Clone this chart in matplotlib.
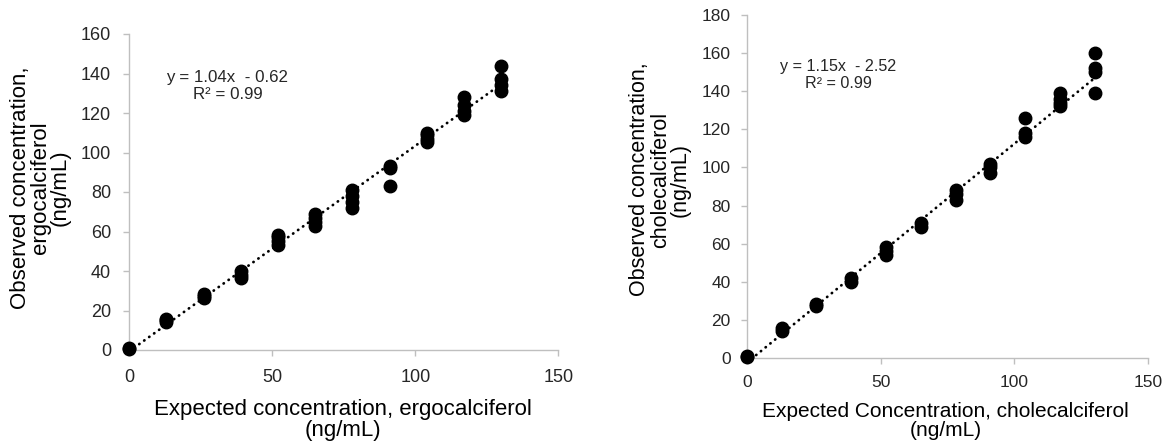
import matplotlib
matplotlib.use("Agg")
import matplotlib.pyplot as plt

plt.rcParams['font.family'] = ['Liberation Sans', 'DejaVu Sans']

# ---- data ----
expected_ergo = [0, 0, 13, 13, 13, 26, 26, 26, 39, 39, 39, 52, 52, 52, 52,
                 65, 65, 65, 65, 78, 78, 78, 78, 91, 91, 91,
                 104, 104, 104, 104, 117, 117, 117, 117, 130, 130, 130, 130]
observed_ergo = [1, 0.5, 14, 15, 15.5, 26.5, 27.5, 28.5, 36.5, 38, 40, 53, 55, 57, 58,
                 63, 65, 67, 69, 72, 75, 78, 81, 83, 92, 93,
                 105.5, 107, 109, 110, 119, 121, 124, 128, 131, 134, 137, 144]

expected_chole = [0, 0, 13, 13, 26, 26, 39, 39, 52, 52, 52, 65, 65,
                  78, 78, 78, 91, 91, 91, 104, 104, 104,
                  117, 117, 117, 117, 130, 130, 130, 130]
observed_chole = [1, 0.5, 14, 15.5, 27.5, 28.5, 40, 42, 54, 56, 58, 69, 71,
                  83, 86, 88, 97, 100, 102, 116, 118, 126,
                  132, 134, 136, 139, 139, 150, 152, 160]

fit_ergo = (1.04, -0.62)
fit_chole = (1.15, -2.52)
fit_range = [0, 130]

eq_ergo = "y = 1.04x  - 0.62\nR\u00b2 = 0.99"
eq_chole = "y = 1.15x  - 2.52\nR\u00b2 = 0.99"

xticks = [0, 50, 100, 150]
yticks_ergo = list(range(0, 161, 20))
yticks_chole = list(range(0, 181, 20))

W, H = 1164, 447
fig = plt.figure(figsize=(W / 100, H / 100), dpi=100)


def px_axes(x0, x1, y0, y1):
    return [x0 / W, (H - y0) / H, (x1 - x0) / W, (y0 - y1) / H]


spine_c = '#BFBFBF'
text_c = '#262626'


def make_panel(rect, ex, ob, fit, eqtxt, eqpos, eqsize, ymax, yticks,
               xlabel, ylabel, xlab_size, ylab_size, xlab_coords, ylab_coords,
               xpad, ypad, ticksize):
    ax = fig.add_axes(rect)
    ax.set_xlim(0, 150)
    ax.set_ylim(0, ymax)
    ax.set_xticks(xticks)
    ax.set_yticks(yticks)
    for s in ['top', 'right']:
        ax.spines[s].set_visible(False)
    for s in ['left', 'bottom']:
        ax.spines[s].set_color(spine_c)
        ax.spines[s].set_linewidth(1.0)
    ax.tick_params(axis='both', colors=spine_c, length=4.5, width=1.0,
                   labelcolor=text_c, labelsize=ticksize)
    ax.tick_params(axis='x', pad=xpad)
    ax.tick_params(axis='y', pad=ypad)
    xs = fit_range
    ys = [fit[0] * x + fit[1] for x in xs]
    ax.plot(xs, ys, color='black', lw=2.0, linestyle=(0, (0.1, 2.1)),
            dash_capstyle='round', zorder=2)
    ax.plot(ex, ob, 'o', color='black', markersize=9, clip_on=False, zorder=3)
    ax.text(eqpos[0], eqpos[1], eqtxt, transform=ax.transAxes, ha='center',
            va='center', multialignment='center', fontsize=eqsize,
            color=text_c, linespacing=1.15)
    ax.set_xlabel(xlabel, fontsize=xlab_size, color='black', linespacing=1.0)
    ax.set_ylabel(ylabel, fontsize=ylab_size, color='black', linespacing=0.95)
    ax.xaxis.set_label_coords(*xlab_coords)
    ax.yaxis.set_label_coords(*ylab_coords)
    return ax


# left panel: x 0->129.3px, 150->558.3px ; y 0->350px, 160->34px
rectL = px_axes(129.3, 558.3, 350, 34)
make_panel(rectL, expected_ergo, observed_ergo, fit_ergo, eq_ergo,
           ((227.5 - 129.3) / 429, (350 - 86) / 316), 12.2, 160, yticks_ergo,
           "Expected concentration, ergocalciferol\n(ng/mL)",
           "Observed concentration,\nergocalciferol\n(ng/mL)",
           16, 16, (0.497, -0.155), (-0.136, 0.515), 9.5, 8.5, 13)

# right panel: x 0->746.7px, 150->1148.3px ; y 0->358px, 180->15px
rectR = px_axes(746.7, 1148.3, 358, 15)
make_panel(rectR, expected_chole, observed_chole, fit_chole, eq_chole,
           ((838 - 746.7) / 401.6, (358 - 75) / 343), 11.6, 180, yticks_chole,
           "Expected Concentration, cholecalciferol\n(ng/mL)",
           "Observed concentration,\ncholecalciferol\n(ng/mL)",
           15, 15.5, (0.4955, -0.128), (-0.139, 0.52), 8, 7, 12.5)

fig.savefig("out.png", dpi=100)
